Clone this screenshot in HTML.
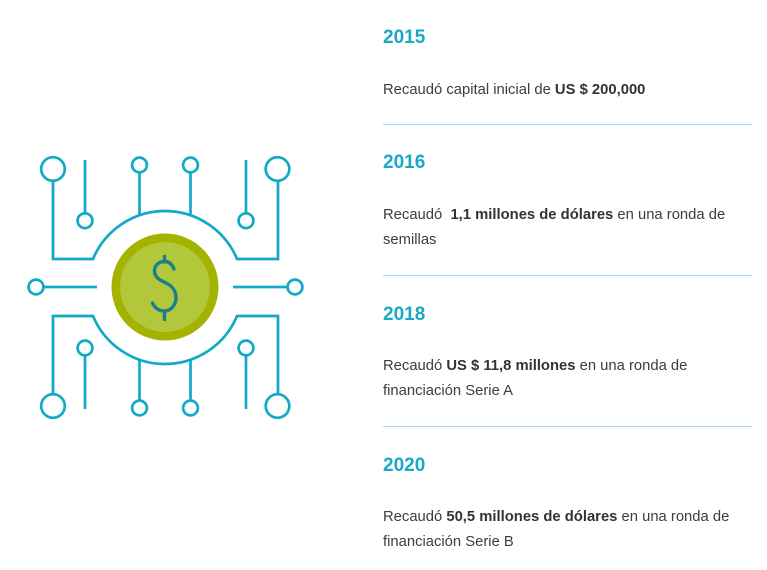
<!DOCTYPE html>
<html><head><meta charset="utf-8">
<style>
html,body{margin:0;padding:0;background:#fff;}
body{width:767px;height:570px;position:relative;overflow:hidden;font-family:"Liberation Sans",Arial,sans-serif;}
.h{position:absolute;left:383px;font-size:19px;line-height:20px;font-weight:700;color:#17a9c6;white-space:nowrap;}
.t{position:absolute;left:383px;font-size:14.8px;line-height:25px;color:#3d3d3d;white-space:nowrap;}
.t b{color:#333;}
.d{position:absolute;left:383px;width:369px;height:1px;background:#a3d4f2;}
svg{position:absolute;left:0;top:0;}
</style></head><body>
<svg width="767" height="570" viewBox="0 0 767 570">
 <g fill="none" stroke="#10a9c6" stroke-width="2.7">
  <circle cx="53" cy="169" r="11.8"/>
  <path d="M53 181 V259 H93 A78 78 0 0 1 237 259 H278 V181"/>
  <circle cx="277.5" cy="169" r="11.8"/>
  <path d="M85 160 V213"/><circle cx="85" cy="220.7" r="7.4"/>
  <path d="M246 160 V213"/><circle cx="246" cy="220.7" r="7.4"/>
  <circle cx="139.5" cy="165" r="7.4"/><path d="M139.5 172.4 V216"/>
  <circle cx="190.5" cy="165" r="7.4"/><path d="M190.5 172.4 V216"/>
  <circle cx="36" cy="287" r="7.4"/><path d="M43.4 287 H97"/>
  <path d="M233 287 H287.6"/><circle cx="295" cy="287" r="7.4"/>
  <circle cx="53" cy="406" r="11.8"/>
  <path d="M53 394 V316 H93 A78 78 0 0 0 237 316 H278 V394"/>
  <circle cx="277.5" cy="406" r="11.8"/>
  <circle cx="85" cy="348" r="7.4"/><path d="M85 355.4 V409"/>
  <circle cx="246" cy="348" r="7.4"/><path d="M246 355.4 V409"/>
  <circle cx="139.5" cy="408" r="7.4"/><path d="M139.5 400.6 V359"/>
  <circle cx="190.5" cy="408" r="7.4"/><path d="M190.5 400.6 V359"/>
 </g>
 <circle cx="165" cy="287" r="53.5" fill="#a3b300"/>
 <circle cx="165" cy="287" r="45" fill="#b3c73a"/>
 <g fill="none" stroke="#1a7f8b" stroke-width="3.4" stroke-linecap="round">
  <path d="M164.5 256.5 V262"/>
  <path d="M164.5 312 V319.5"/>
  <path d="M174 269 C172 264,169 261.5,164.5 261.5 C158.5 261.5,154.5 265.5,154.5 271 C154.5 278,161 280.5,166 283 C172 286,176 290,176 297.5 C176 305.5,170.5 311,164.5 311 C158.5 311,154.5 307.5,152.5 303"/>
 </g>
</svg>

<div class="h" style="top:27.5px">2015</div>
<div class="t" style="top:77.5px">Recaudó capital inicial de <b>US $ 200,000</b></div>
<div class="d" style="top:124px"></div>

<div class="h" style="top:153px">2016</div>
<div class="t" style="top:203px">Recaudó&nbsp; <b>1,1 millones de dólares</b> en una ronda de<br>semillas</div>
<div class="d" style="top:275px"></div>

<div class="h" style="top:304.5px">2018</div>
<div class="t" style="top:354px">Recaudó <b>US $ 11,8 millones</b> en una ronda de<br>financiación Serie A</div>
<div class="d" style="top:426px"></div>

<div class="h" style="top:455.5px">2020</div>
<div class="t" style="top:505px">Recaudó <b>50,5 millones de dólares</b> en una ronda de<br>financiación Serie B</div>
</body></html>
